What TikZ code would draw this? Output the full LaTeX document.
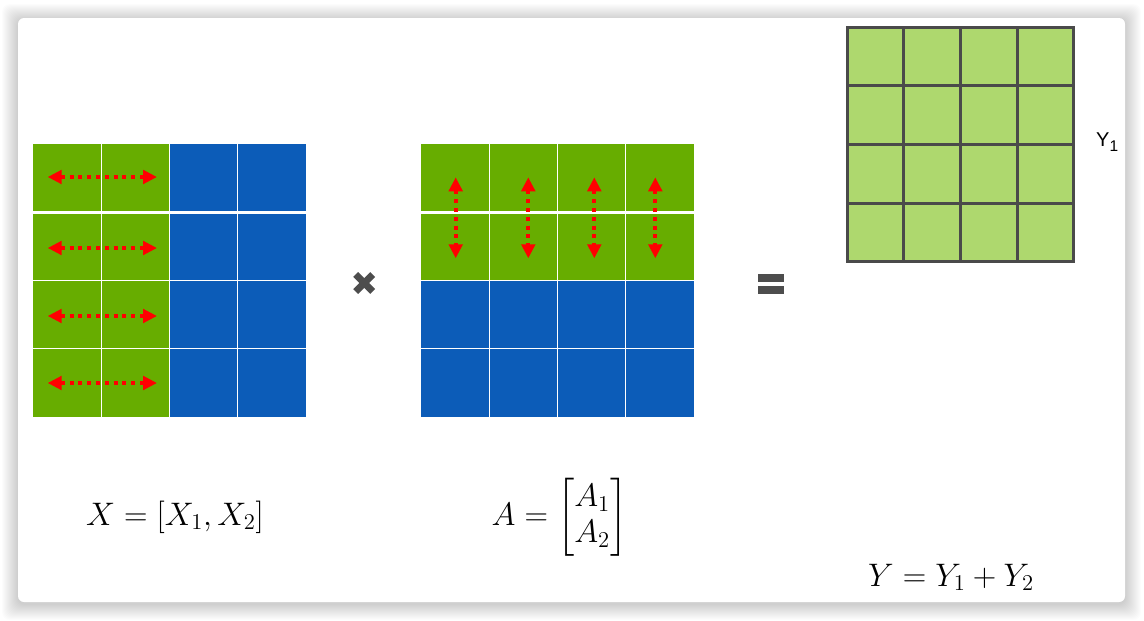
\documentclass[tikz,border=0pt]{standalone}
\usepackage{amsmath}
\usepackage{fontspec}
\newfontfamily\labelfont{Liberation Sans}
\usetikzlibrary{arrows.meta}
\definecolor{mgreen}{RGB}{103,173,0}
\definecolor{mblue}{RGB}{12,92,184}
\definecolor{lgreen}{RGB}{174,216,110}
\definecolor{dgray}{RGB}{77,77,77}
\definecolor{gline}{RGB}{74,74,74}
\newcommand{\bigmath}[1]{\scalebox{1.57}{\fontsize{20}{24}\selectfont$#1$}}
\begin{document}
\begin{tikzpicture}[x=1pt,y=-1pt,
  cell/.style={inner sep=0pt,outer sep=0pt,minimum width=68.25pt,minimum height=68.25pt,draw=none},
  ycell/.style={inner sep=0pt,outer sep=0pt,minimum width=56.7pt,minimum height=58.6pt,fill=lgreen,draw=gline,line width=3pt},
  redarrow/.style={red,line width=4pt,dash pattern=on 4pt off 4.8pt,
     {Triangle[length=14pt,width=13.5pt]}-{Triangle[length=14pt,width=13.5pt]}},
  thinwhite/.style={white,line width=1.1pt},
  thickwhite/.style={white,line width=2.6pt},
  formula/.style={inner sep=0pt},
  opsym/.style={dgray},
]
\fill[white] (0,0) rectangle (1144,621);
\useasboundingbox (0,0) rectangle (1144,621);
% card shadow
\foreach \i in {1,...,16}{
  \fill[black,opacity=0.012,rounded corners=8pt] (18-\i,18-\i+2) rectangle (1125+\i,602+\i+2);
}
\fill[white,rounded corners=6pt] (18,18) rectangle (1125,602);

% ---- matrix X ----
\foreach \r in {0,...,3}{
  \foreach \c in {0,...,3}{
    \ifnum\c<2
      \node[cell,fill=mgreen] (X\r\c) at ({33+68.25*(\c+0.5)},{144+68.25*(\r+0.5)}) {};
    \else
      \node[cell,fill=mblue] (X\r\c) at ({33+68.25*(\c+0.5)},{144+68.25*(\r+0.5)}) {};
    \fi
  }
}
\foreach \k in {1,2,3}{
  \draw[thinwhite] ({33+68.25*\k},144) -- ({33+68.25*\k},417);
}
\draw[thickwhite] (33,212.25) -- (306,212.25);
\draw[thinwhite] (33,280.5) -- (306,280.5);
\draw[thinwhite] (33,348.75) -- (306,348.75);
\foreach \r/\y in {0/177,1/248,2/316,3/383}{
  \coordinate (xl\r) at (47.7,\y);
  \coordinate (xr\r) at (157,\y);
  \draw[redarrow] (xl\r) -- (xr\r);
}

% ---- matrix A ----
\foreach \r in {0,...,3}{
  \foreach \c in {0,...,3}{
    \ifnum\r<2
      \node[cell,fill=mgreen] (A\r\c) at ({421+68.25*(\c+0.5)},{144+68.25*(\r+0.5)}) {};
    \else
      \node[cell,fill=mblue] (A\r\c) at ({421+68.25*(\c+0.5)},{144+68.25*(\r+0.5)}) {};
    \fi
  }
}
\foreach \k in {1,2,3}{
  \draw[thinwhite] ({421+68.25*\k},144) -- ({421+68.25*\k},417);
}
\draw[thickwhite] (421,212.25) -- (694,212.25);
\draw[thinwhite] (421,280.5) -- (694,280.5);
\draw[thinwhite] (421,348.75) -- (694,348.75);
\foreach \c/\x in {0/455.7,1/528.3,2/594.3,3/655.3}{
  \coordinate (at\c) at (\x,177.3);
  \coordinate (ab\c) at (\x,258.3);
  \draw[redarrow] (at\c) -- (ab\c);
}

% ---- matrix Y1 ----
\foreach \r in {0,...,3}{
  \foreach \c in {0,...,3}{
    \node[ycell] (Y\r\c) at ({847+56.75*(\c+0.5)},{27.3+58.6*(\r+0.5)}) {};
  }
}
\node[inner sep=0pt,anchor=base west] (ylab) at (1096,146)
  {\labelfont\fontsize{20}{22}\selectfont Y\raisebox{-5pt}{\fontsize{15.5}{18}\selectfont 1}};

% ---- operators ----
\draw[opsym,line width=7pt] (355.7,274.5) -- (372.7,291.5);
\draw[opsym,line width=7pt] (355.7,291.5) -- (372.7,274.5);
\fill[opsym] (758,274) rectangle (784,281.7);
\fill[opsym] (758,285.7) rectangle (784,293.7);

% ---- formulas ----
\node[formula,anchor=base] (fx) at (175,525) {\bigmath{X=[X_1,X_2]}};
\node[formula] (fa) at (559.5,517.5) {\bigmath{A=\renewcommand{\arraystretch}{0.95}\begin{bmatrix}A_1\\A_2\end{bmatrix}}};
\node[formula,anchor=base] (fy) at (951,586) {\bigmath{Y=Y_1+Y_2}};
\end{tikzpicture}
\end{document}
